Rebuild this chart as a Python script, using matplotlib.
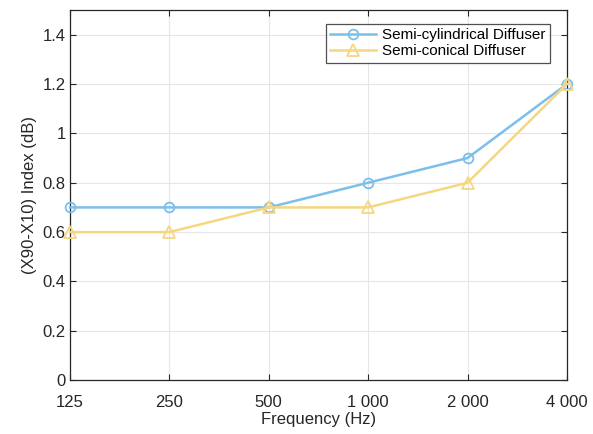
import matplotlib
matplotlib.use('Agg')
import matplotlib.pyplot as plt

# data
freq_labels = ['125', '250', '500', '1 000', '2 000', '4 000']
semi_cyl = [0.7, 0.7, 0.7, 0.8, 0.9, 1.2]
semi_con = [0.6, 0.6, 0.7, 0.7, 0.8, 1.2]

plt.rcParams['font.family'] = ['Liberation Sans', 'DejaVu Sans']

fig = plt.figure(figsize=(5.93, 4.34), dpi=100)
ax = fig.add_axes([0.118, 0.124, 0.838, 0.853])

x = list(range(len(freq_labels)))
ax.plot(x, semi_cyl, color='#7bbfea', marker='o', markersize=7, markerfacecolor='none',
        markeredgewidth=1.3, linewidth=1.8, label='Semi-cylindrical Diffuser', clip_on=False, zorder=3)
ax.plot(x, semi_con, color='#f5d77f', marker='^', markersize=8, markerfacecolor='none',
        markeredgewidth=1.3, linewidth=1.8, label='Semi-conical Diffuser', clip_on=False, zorder=3)

ax.set_xlim(0, len(x) - 1)
ax.set_ylim(0, 1.5)
ax.set_xticks(x)
ax.set_xticklabels(freq_labels)
ax.set_yticks([0, 0.2, 0.4, 0.6, 0.8, 1, 1.2, 1.4])
ax.set_yticklabels(['0', '0.2', '0.4', '0.6', '0.8', '1', '1.2', '1.4'])
ax.tick_params(labelsize=12, colors='#262626', direction='in', length=4,
               top=True, right=True, width=0.8)
ax.tick_params(axis='x', pad=11)
ax.tick_params(axis='y', pad=3)
ax.grid(True, color='#e6e6e6', linewidth=0.8)
for s in ax.spines.values():
    s.set_color('#262626')
    s.set_linewidth(0.9)

ax.set_xlabel('Frequency (Hz)', fontsize=12, color='#262626', labelpad=1)
ax.set_ylabel('(X90-X10) Index (dB)', fontsize=12, color='#262626', labelpad=4)

leg = ax.legend(loc='upper right', fontsize=11, frameon=True, fancybox=False,
                borderpad=0.3, labelspacing=0.1, handlelength=3, handletextpad=0.4,
                bbox_to_anchor=(0.982, 0.983))
leg.get_frame().set_edgecolor('#262626')
leg.get_frame().set_linewidth(0.9)

fig.savefig('out.png', dpi=100)
